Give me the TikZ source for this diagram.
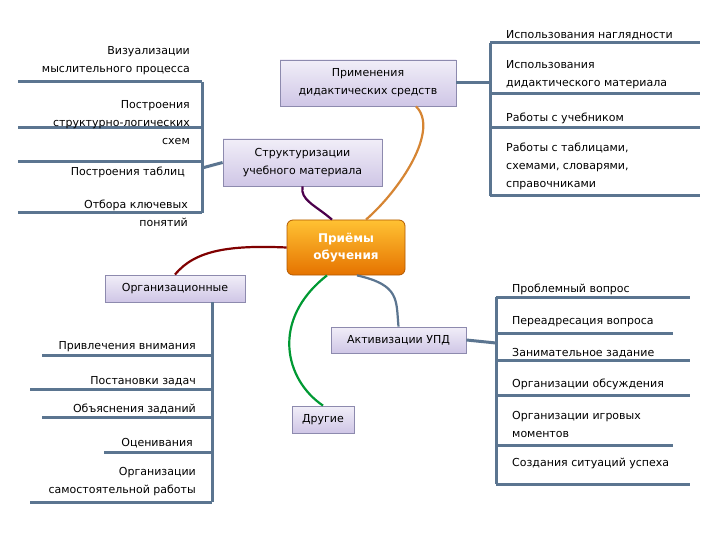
\documentclass[tikz,border=0pt]{standalone}
\usepackage{fontspec}
\setmainfont{DejaVu Sans}
\usetikzlibrary{calc}
\begin{document}
\begin{tikzpicture}[x=1pt,y=-1pt,
  font=\fontsize{11}{18}\selectfont,
  br/.style={draw=lineblue,line width=3pt},
  box/.style={draw=boxborder,line width=0.8pt,top color=boxtop,bottom color=boxbot,align=center,inner sep=0pt,font=\fontsize{11}{18}\selectfont},
  lbl/.style={align=right,inner sep=0pt},
  rlbl/.style={align=left,inner sep=0pt},
  curve/.style={line width=2.2pt}]
\definecolor{lineblue}{HTML}{5B7590}
\definecolor{boxborder}{HTML}{8D8AAE}
\definecolor{boxtop}{HTML}{F1EEF8}
\definecolor{boxbot}{HTML}{CFC6E6}
\useasboundingbox (0,0) rectangle (720,540);
\fill[white] (0,0) rectangle (720,540);
% boxes
\node[box,minimum width=176,minimum height=46] (prim) at (368,83) {Применения\\дидактических средств};
\node[box,minimum width=159,minimum height=47] (strk) at (302.5,162.5) {Структуризации\\учебного материала};
\node[box,minimum width=140,minimum height=27] (org) at (175,288.5) {Организационные};
\node[box,minimum width=135,minimum height=26] (akt) at (398.5,340) {Активизации УПД};
\node[box,minimum width=62,minimum height=27] (dr) at (323,419.5) {Другие};
\node[draw=orange!70!black,line width=0.8pt,rounded corners=6pt,top color=orange!60!yellow!80,bottom color=orange!90!black,minimum width=118,minimum height=55,align=center,text=white,font=\fontsize{12}{17}\selectfont\bfseries] (c) at (346,247.5) {Приёмы\\обучения};
% curves
\draw[curve,color=orange!80!black!80] ($(c.north)+(20,0)$) .. controls (400,190) and (440,130) .. ($(prim.south)+(48,0)$);
\draw[curve,color=violet!60!black] ($(c.north)+(-14,0)$) .. controls (315,205) and (300,200) .. (strk.south);
\draw[curve,color=red!50!black] (c.west) .. controls (230,245) and (195,250) .. (org.north);
\draw[curve,color=green!50!black!80!cyan] ($(c.south)+(-19,0)$) .. controls (270,320) and (285,380) .. (dr.north);
\draw[curve,color=lineblue] ($(c.south)+(11,0)$) .. controls (400,285) and (396,300) .. (akt.north);
% left tree
\coordinate (lv) at (202,168);
\draw[br] (strk.west) -- (lv);
\draw[br] (202,82) -- (202,213);
\foreach \y/\x in {82/18,128/18,162/18,213/18} \draw[br] (\x,\y) -- (202,\y);
\node[lbl,anchor=east] (l1) at (190,61) {Визуализации\\мыслительного процесса};
\node[lbl,anchor=east] (l2) at (190,123) {Построения\\структурно-логических\\схем};
\node[lbl,anchor=east] (l3) at (185,172) {Построения таблиц};
\node[lbl,anchor=east] (l4) at (188,213) {Отбора ключевых\\понятий};
% bottom-left tree
\draw[br] (212,302) -- (212,502);
\foreach \y/\x in {355/42,389/30,417/42,452/104,502/30} \draw[br] (\x,\y) -- (212,\y);
\node[lbl,anchor=south east] (b1) at (196,352) {Привлечения внимания};
\node[lbl,anchor=south east] (b2) at (196,386) {Постановки задач};
\node[lbl,anchor=south east] (b3) at (196,414) {Объяснения заданий};
\node[lbl,anchor=south east] (b4) at (193,448) {Оценивания};
\node[lbl,anchor=east] (b5) at (196,482) {Организации\\самостоятельной  работы};
% right tree 1
\draw[br] (prim.east) -- (490,83);
\draw[br] (490,43) -- (490,196);
\foreach \y in {43,94,128,196} \draw[br] (490,\y) -- (700,\y);
\node[rlbl,anchor=south west] (r1) at (506,40) {Использования наглядности};
\node[rlbl,anchor=west] (r2) at (506,75) {Использования\\дидактического материала};
\node[rlbl,anchor=south west] (r3) at (506,124) {Работы с учебником};
\node[rlbl,anchor=west] (r4) at (506,166) {Работы с таблицами,\\схемами, словарями,\\справочниками};
% right tree 2
\draw[br] (akt.east) -- (496,343);
\draw[br] (496,297) -- (496,484);
\foreach \y/\x in {297/690,333/673,360/690,395/690,445/673,484/690} \draw[br] (496,\y) -- (\x,\y);
\node[rlbl,anchor=south west] (s1) at (512,295) {Проблемный вопрос};
\node[rlbl,anchor=south west] (s2) at (512,327) {Переадресация вопроса};
\node[rlbl,anchor=south west] (s3) at (512,358) {Занимательное задание};
\node[rlbl,anchor=south west] (s4) at (512,390) {Организации обсуждения};
\node[rlbl,anchor=west] (s5) at (512,424) {Организации игровых\\моментов};
\node[rlbl,anchor=south west] (s6) at (512,469) {Создания ситуаций успеха};
\end{tikzpicture}
\end{document}
